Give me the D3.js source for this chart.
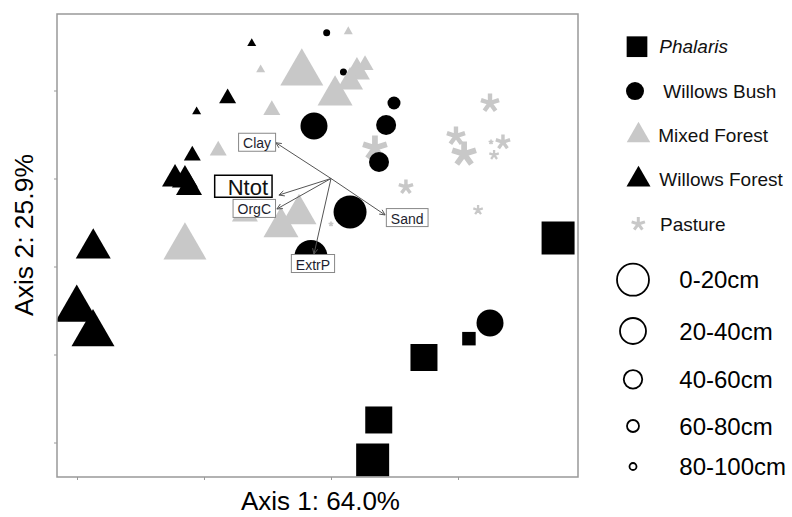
<!DOCTYPE html>
<html><head><meta charset="utf-8">
<script src="https://cdn.jsdelivr.net/npm/d3@7/dist/d3.min.js"></script>
<style>
html,body{margin:0;padding:0;background:#fff;}
svg{display:block;font-family:"Liberation Sans",Arial,sans-serif;}
</style></head>
<body>
<svg id="chart" width="792" height="517"></svg>
<script>
// ---------- data ----------
const depths = ["0-20cm", "20-40cm", "40-60cm", "60-80cm", "80-100cm"];
const groups = ["Phalaris", "Willows Bush", "Mixed Forest", "Willows Forest", "Pasture"];
// [axis1, axis2, depth index]
const phalaris = [[0.894,-0.338,0],[0.164,-1.599,0],[0.366,-1.017,1],[0.188,-1.372,1],[0.543,-0.910,3]];
const willowsBush = [[-0.017,0.828,4],[0.049,0.605,4],[0.248,0.429,3],[0.217,0.304,2],[0.189,0.094,2],
  [-0.067,0.298,1],[0.075,-0.190,0],[-0.079,-0.443,0],[0.626,-0.821,1]];
const mixedForest = [[-0.115,0.599,0],[-0.575,-0.389,0],[0.016,0.472,1],[-0.126,-0.202,1],[-0.197,-0.276,1],
  [-0.339,-0.202,2],[0.102,0.605,2],[0.075,0.548,2],[0.134,0.645,3],[-0.233,0.389,3],[-0.444,0.159,3],
  [-0.277,0.618,4],[0.068,0.835,4]];
const willowsForest = [[-0.312,0.767,4],[-0.407,0.456,3],[-0.529,0.380,4],[-0.546,0.130,3],
  [-0.614,-0.003,2],[-0.575,-0.009,2],[-0.559,-0.051,2],[-0.936,-0.397,1],[-1.001,-0.744,0],[-0.937,-0.882,0]];
const pasture = [[0.524,0.139,0],[0.173,0.173,0],[0.626,0.429,1],[0.492,0.241,1],[0.677,0.207,2],
  [0.295,-0.048,2],[0.642,0.134,3],[0.579,-0.179,3],[0.630,0.207,4],[0.000,-0.259,4]];
// environmental vectors: name, tip x, tip y, label x, label y (null = label drawn separately)
const vectors = [["Clay",-0.217,0.203,-0.291,0.206],["Sand",0.213,-0.207,0.300,-0.222],
  ["Ntot",-0.205,-0.094,null,null],["OrgC",-0.213,-0.173,-0.302,-0.170],["ExtrP",-0.067,-0.429,-0.071,-0.483]];
const highlightLabel = ["Ntot",-0.345,-0.044];
const xTicks = [-1,-0.5,0,0.5];
const yTicks = [0.5,0,-0.5,-1,-1.5];
const axisTitles = ["Axis 1: 64.0%","Axis 2: 25.9%"];

// ---------- layout ----------
const svg = d3.select("#chart");
const L=57,T=14,R=578,B=477;
const x = d3.scaleLinear().domain([-1.0787,0.9724]).range([L,R]);
const y = d3.scaleLinear().domain([-1.696,0.9347]).range([B,T]);
const GRAY="#c8c8c8";
const squareSide = d3.scaleOrdinal().domain([0,1,2,3,4]).range([33,27,20,13.5,8]);
const circleDia = d3.scaleOrdinal().domain([0,1,2,3,4]).range([33,27,20,13,7]);
const triWidth = d3.scaleOrdinal().domain([0,1,2,3,4]).range([43,35,26,17,9]);
const starSize = d3.scaleOrdinal().domain([0,1,2,3,4]).range([25,19,15,10,5]);

function star(s){
  let p="";
  for(let k=0;k<5;k++){
    const a=(-90+72*k)*Math.PI/180;
    p+=`M0,0L${(s/2*Math.cos(a)).toFixed(2)},${(s/2*Math.sin(a)).toFixed(2)}`;
  }
  return p;
}
const symSquare = s => d3.symbol(d3.symbolSquare, s*s)();
const symCircle = dd => d3.symbol(d3.symbolCircle, Math.PI*dd*dd/4)();
const symTri = w => d3.symbol(d3.symbolTriangle, Math.sqrt(3)*w*w/4)();

svg.append("defs").append("clipPath").attr("id","plotclip")
  .append("rect").attr("x",L).attr("y",T).attr("width",R-L).attr("height",B-T);

// axes ticks
svg.append("g").attr("transform",`translate(0,${B})`)
  .call(d3.axisBottom(x).tickValues(xTicks).tickFormat("").tickSize(3).tickSizeOuter(0))
  .call(g=>{g.select(".domain").remove();g.selectAll("line").attr("stroke","#999");});
svg.append("g").attr("transform",`translate(${L},0)`)
  .call(d3.axisLeft(y).tickValues(yTicks).tickFormat("").tickSize(3).tickSizeOuter(0))
  .call(g=>{g.select(".domain").remove();g.selectAll("line").attr("stroke","#999");});

const plot = svg.append("g").attr("clip-path","url(#plotclip)");
const tr = d=>`translate(${x(d[0])},${y(d[1])})`;

plot.append("g").selectAll("path").data(phalaris).join("path")
  .attr("transform",tr).attr("d",d=>symSquare(squareSide(d[2]))).attr("fill","#000");
plot.append("g").selectAll("path").data(willowsForest).join("path")
  .attr("transform",tr).attr("d",d=>symTri(triWidth(d[2]))).attr("fill","#000");
plot.append("g").selectAll("path").data(pasture).join("path")
  .attr("transform",tr).attr("d",d=>star(starSize(d[2]))).attr("fill","none")
  .attr("stroke",GRAY).attr("stroke-width",d=>Math.max(1.6,starSize(d[2])*0.23));
plot.append("g").selectAll("path").data(willowsBush).join("path")
  .attr("transform",tr).attr("d",d=>symCircle(circleDia(d[2]))).attr("fill","#000");
plot.append("g").selectAll("path").data(mixedForest).join("path")
  .attr("transform",tr).attr("d",d=>symTri(triWidth(d[2]))).attr("fill",GRAY);

// vectors
const vg = svg.append("g").attr("stroke","#555").attr("stroke-width",1).attr("fill","none");
vectors.forEach(v=>{
  const x0=x(0),y0=y(0),x1=x(v[1]),y1=y(v[2]);
  vg.append("line").attr("x1",x0).attr("y1",y0).attr("x2",x1).attr("y2",y1);
  const ang=Math.atan2(y1-y0,x1-x0), hl=6, ha=0.45;
  vg.append("path").attr("d",`M${x1-hl*Math.cos(ang-ha)},${y1-hl*Math.sin(ang-ha)}L${x1},${y1}L${x1-hl*Math.cos(ang+ha)},${y1-hl*Math.sin(ang+ha)}`);
});

// labels
const lg = svg.append("g");
function boxLabel(txt,cx,cy,fs,padL,padR,h,stroke,sw,col){
  const g=lg.append("g");
  const t=g.append("text").attr("x",0).attr("y",0).attr("font-size",fs).attr("fill",col)
    .attr("dominant-baseline","central").text(txt);
  const w=t.node().getComputedTextLength();
  const bw=w+padL+padR;
  g.insert("rect","text").attr("x",cx-bw/2).attr("y",cy-h/2).attr("width",bw).attr("height",h)
    .attr("fill","#fff").attr("stroke",stroke).attr("stroke-width",sw);
  t.attr("x",cx-bw/2+padL).attr("y",cy+1);
}
vectors.filter(v=>v[3]!==null).forEach(v=>boxLabel(v[0],x(v[3]),y(v[4]),14,4.5,4.5,18,"#888",1,"#1e1e2e"));
boxLabel(highlightLabel[0],x(highlightLabel[1]),y(highlightLabel[2]),22,13,4,22,"#000",1.5,"#111");

// frame
svg.append("rect").attr("x",L).attr("y",T).attr("width",R-L).attr("height",B-T)
  .attr("fill","none").attr("stroke","#999").attr("stroke-width",1.5);

// axis titles
svg.append("text").attr("x",(L+R)/2+3).attr("y",510).attr("text-anchor","middle")
  .attr("font-size",26).attr("fill","#000").text(axisTitles[0]);
svg.append("text").attr("transform","translate(33,235) rotate(-90)").attr("text-anchor","middle")
  .attr("font-size",26.5).attr("fill","#000").text(axisTitles[1]);

// legend: groups
const legY = d3.scalePoint().domain(groups).range([46.7,224]);
const leg = svg.append("g");
const legMarks = [
  {g:"Phalaris", d:symSquare(20.7), fill:"#000", mx:637, tx:659.3, italic:true},
  {g:"Willows Bush", d:symCircle(18), fill:"#000", mx:635, tx:663.3},
  {g:"Mixed Forest", d:symTri(23.5), fill:GRAY, mx:638.5, tx:658.3},
  {g:"Willows Forest", d:symTri(24), fill:"#000", mx:638.5, tx:659.3},
  {g:"Pasture", d:star(14), fill:"none", stroke:GRAY, mx:638.3, tx:660}
];
legMarks.forEach(m=>{
  const yy=legY(m.g);
  leg.append("path").attr("transform",`translate(${m.mx},${yy})`).attr("d",m.d)
    .attr("fill",m.fill).attr("stroke",m.stroke||"none").attr("stroke-width",3);
  leg.append("text").attr("x",m.tx).attr("y",yy).attr("dominant-baseline","central")
    .attr("font-size",19).attr("font-style",m.italic?"italic":"normal").attr("fill","#111").text(m.g);
});
// legend: depths
const depthY = d3.scaleOrdinal().domain(depths).range([279.7,331,379.3,426,466.5]);
const depthDia = d3.scaleOrdinal().domain(depths).range([32,26,18.5,12,7]);
depths.forEach(dp=>{
  leg.append("circle").attr("cx",633).attr("cy",depthY(dp)).attr("r",depthDia(dp)/2)
    .attr("fill","none").attr("stroke","#000").attr("stroke-width",1.8);
  leg.append("text").attr("x",679.3).attr("y",depthY(dp)).attr("dominant-baseline","central")
    .attr("font-size",24).attr("fill","#000").text(dp);
});
</script>
</body></html>
